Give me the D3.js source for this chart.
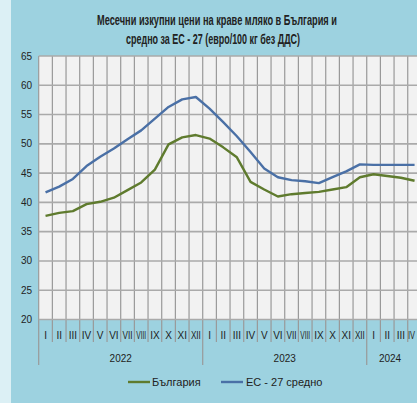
<!DOCTYPE html>
<html lang="bg">
<head>
<meta charset="UTF-8">
<title>Месечни изкупни цени на краве мляко</title>
<script src="https://d3js.org/d3.v7.min.js"></script>
<style>
  html, body { margin: 0; padding: 0; background: #dcf0f5; }
  svg { display: block; }
  text { font-family: "Liberation Sans Narrow", "Arial Narrow", "Liberation Sans", sans-serif; fill: #222; }
</style>
</head>
<body>
<div id="chart"></div>
<script>
// данни
const months = ['I','II','III','IV','V','VI','VII','VIII','IX','X','XI','XII',
                'I','II','III','IV','V','VI','VII','VIII','IX','X','XI','XII',
                'I','II','III','IV'];
const years = [
  { label: '2022', start: 0, end: 12 },
  { label: '2023', start: 12, end: 24 },
  { label: '2024', start: 24, end: 28 }
];
const bulgaria = [37.7, 38.2, 38.5, 39.7, 40.1, 40.8, 42.1, 43.4, 45.6, 49.9, 51.1, 51.5,
                  50.9, 49.4, 47.7, 43.5, 42.2, 41.0, 41.4, 41.6, 41.8, 42.2, 42.6, 44.3,
                  44.8, 44.5, 44.2, 43.7];
const eu27 = [41.7, 42.7, 44.0, 46.2, 47.8, 49.2, 50.8, 52.3, 54.3, 56.3, 57.6, 58.0,
              56.0, 53.7, 51.3, 48.6, 45.8, 44.3, 43.8, 43.6, 43.3, 44.3, 45.3, 46.5,
              46.4, 46.4, 46.4, 46.4];
const yTicks = [20, 25, 30, 35, 40, 45, 50, 55, 60, 65];
const seriesNames = ['България', 'ЕС - 27 средно'];
const colors = ['#5f7b2e', '#4a70a6'];

const width = 417, height = 403;
const svg = d3.select('#chart').append('svg')
  .attr('width', width).attr('height', height);

// фон
svg.append('rect').attr('x', 11).attr('y', 0).attr('width', width - 11).attr('height', height)
  .attr('fill', '#9dd2e0');

const plotLeft = 38.7, plotRight = 421.4, plotTop = 56, plotBottom = 319.5;

const x = d3.scaleBand().domain(d3.range(months.length)).range([plotLeft, plotRight]).padding(0);
const y = d3.scaleLinear().domain([20, 65]).range([plotBottom, plotTop]);

svg.append('rect')
  .attr('x', plotLeft).attr('y', plotTop)
  .attr('width', plotRight - plotLeft).attr('height', plotBottom - plotTop)
  .attr('fill', '#f2f2f2');

// вертикални линии
svg.append('g').selectAll('line')
  .data(d3.range(months.length + 1))
  .join('line')
  .attr('x1', i => plotLeft + i * x.bandwidth())
  .attr('x2', i => plotLeft + i * x.bandwidth())
  .attr('y1', plotTop)
  .attr('y2', i => years.some(yr => yr.start === i) ? 365 : 342)
  .attr('stroke', '#999')
  .attr('stroke-width', 1.2);

// хоризонтални линии
svg.append('g').selectAll('line')
  .data(yTicks)
  .join('line')
  .attr('x1', plotLeft).attr('x2', plotRight)
  .attr('y1', d => y(d)).attr('y2', d => y(d))
  .attr('stroke', '#aaa')
  .attr('stroke-width', 1.6);

// етикети по Y
svg.append('g').selectAll('text')
  .data(yTicks)
  .join('text')
  .attr('x', 32).attr('y', d => y(d) + 3.5)
  .attr('text-anchor', 'end')
  .attr('font-size', 10)
  .text(d => d);

// месеци (свити, за да се съберат); последният е до ръба
svg.append('g').selectAll('text')
  .data(months)
  .join('text')
  .attr('x', (d, i) => i === months.length - 1 ? width - 2 : x(i) + x.bandwidth() / 2)
  .attr('y', 339)
  .attr('text-anchor', (d, i) => i === months.length - 1 ? 'end' : 'middle')
  .attr('font-size', 10)
  .text(d => d)
  .each(function (d, i) {
    const w = this.getComputedTextLength();
    const max = i === months.length - 1 ? 7 : 10;
    if (w > max) {
      d3.select(this).attr('textLength', max).attr('lengthAdjust', 'spacingAndGlyphs');
    }
  });

// години
svg.append('g').selectAll('text')
  .data(years)
  .join('text')
  .attr('x', d => d.label === '2024' ? 390 : (x(d.start) + x(d.end - 1) + x.bandwidth()) / 2)
  .attr('y', 362)
  .attr('text-anchor', 'middle')
  .attr('font-size', 10)
  .text(d => d.label);

// линии
const line = d3.line()
  .x((d, i) => x(i) + x.bandwidth() / 2)
  .y(d => y(d));

[bulgaria, eu27].forEach((s, k) => {
  svg.append('path')
    .datum(s)
    .attr('d', line)
    .attr('fill', 'none')
    .attr('stroke', colors[k])
    .attr('stroke-width', 2.4)
    .attr('stroke-linejoin', 'round');
});

// легенда
const legendX = [128, 221];
seriesNames.forEach((name, k) => {
  const g = svg.append('g').attr('transform', `translate(${legendX[k]},382)`);
  g.append('line').attr('x1', 0).attr('x2', 22).attr('y1', 0).attr('y2', 0)
    .attr('stroke', colors[k]).attr('stroke-width', 2.4);
  g.append('text').attr('x', 24 + k * 1).attr('y', 4).attr('font-size', 11).text(name);
});

// заглавие
svg.append('text')
  .attr('x', 217).attr('y', 25)
  .attr('text-anchor', 'middle')
  .attr('font-size', 14)
  .attr('font-weight', 'bold')
  .attr('textLength', 240).attr('lengthAdjust', 'spacingAndGlyphs')
  .text('Месечни изкупни цени на краве мляко в България и');
svg.append('text')
  .attr('x', 213).attr('y', 44)
  .attr('text-anchor', 'middle')
  .attr('font-size', 14)
  .attr('font-weight', 'bold')
  .attr('textLength', 174).attr('lengthAdjust', 'spacingAndGlyphs')
  .text('средно за ЕС - 27 (евро/100 кг без ДДС)');
</script>
</body>
</html>
